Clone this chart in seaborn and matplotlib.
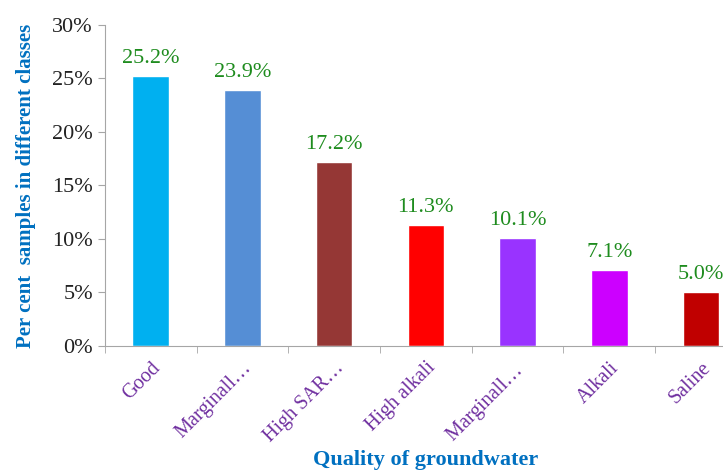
import numpy as np
import pandas as pd
import seaborn as sns
import matplotlib.pyplot as plt
import matplotlib.ticker as ticker

categories = ["Good", "Marginall\u2026", "High SAR\u2026", "High alkali",
              "Marginall\u2026 ", "Alkali", "Saline"]
percent = [25.2, 23.9, 17.2, 11.3, 10.1, 7.1, 5.0]
bar_colors = ["#00B0F0", "#558ED5", "#953735", "#FF0000",
              "#9933FF", "#CC00FF", "#C00000"]

sns.set_style("white")
plt.rcParams['font.family'] = ['Liberation Serif', 'DejaVu Serif']

df = pd.DataFrame({"quality": categories, "pct": percent})

fig = plt.figure(figsize=(7.23, 4.70), dpi=100)
# axes run past the right edge, as in the cropped reference
ax = fig.add_axes([0.145, 0.264, 0.888, 0.683])

sns.barplot(data=df, x="quality", y="pct", hue="quality",
            palette=bar_colors, width=0.4, legend=False, ax=ax,
            saturation=1)

ax.set_ylim(0, 30)
ax.set_xlim(-0.5, 6.5)
ax.yaxis.set_major_locator(ticker.MultipleLocator(5))
ax.yaxis.set_major_formatter(ticker.FuncFormatter(lambda v, p: f"{v:.0f}%"))

for c in ax.containers:
    ax.bar_label(c, labels=[f"{v:.1f}%" for v in c.datavalues],
                 padding=6, color="#1E8C1E", fontsize=16)

for side in ["top", "right"]:
    ax.spines[side].set_visible(False)
for side in ["left", "bottom"]:
    ax.spines[side].set_color("#A6A6A6")

ax.tick_params(axis="y", which="major", left=True, length=5,
               color="#A6A6A6", labelsize=16, labelcolor="#222222")
ax.set_xticks(range(len(categories)))
ax.set_xticklabels(categories, rotation=45, ha="right",
                   rotation_mode="anchor", color="#7030A0", fontsize=14.5)
ax.tick_params(axis="x", which="major", length=0, pad=9)
# tick marks sit between the categories
ax.set_xticks(np.arange(-0.5, 7, 1.0), minor=True)
ax.tick_params(axis="x", which="minor", bottom=True, length=5,
               color="#A6A6A6")

ax.set_ylabel("Per cent  samples in different classes", color="#0070C0",
              fontsize=15, fontweight="bold", labelpad=12)
ax.set_xlabel("Quality of groundwater", color="#0070C0",
              fontsize=16, fontweight="bold")
ax.xaxis.set_label_coords(0.589, 0.042, transform=fig.transFigure)

fig.savefig("out.png", dpi=100)
